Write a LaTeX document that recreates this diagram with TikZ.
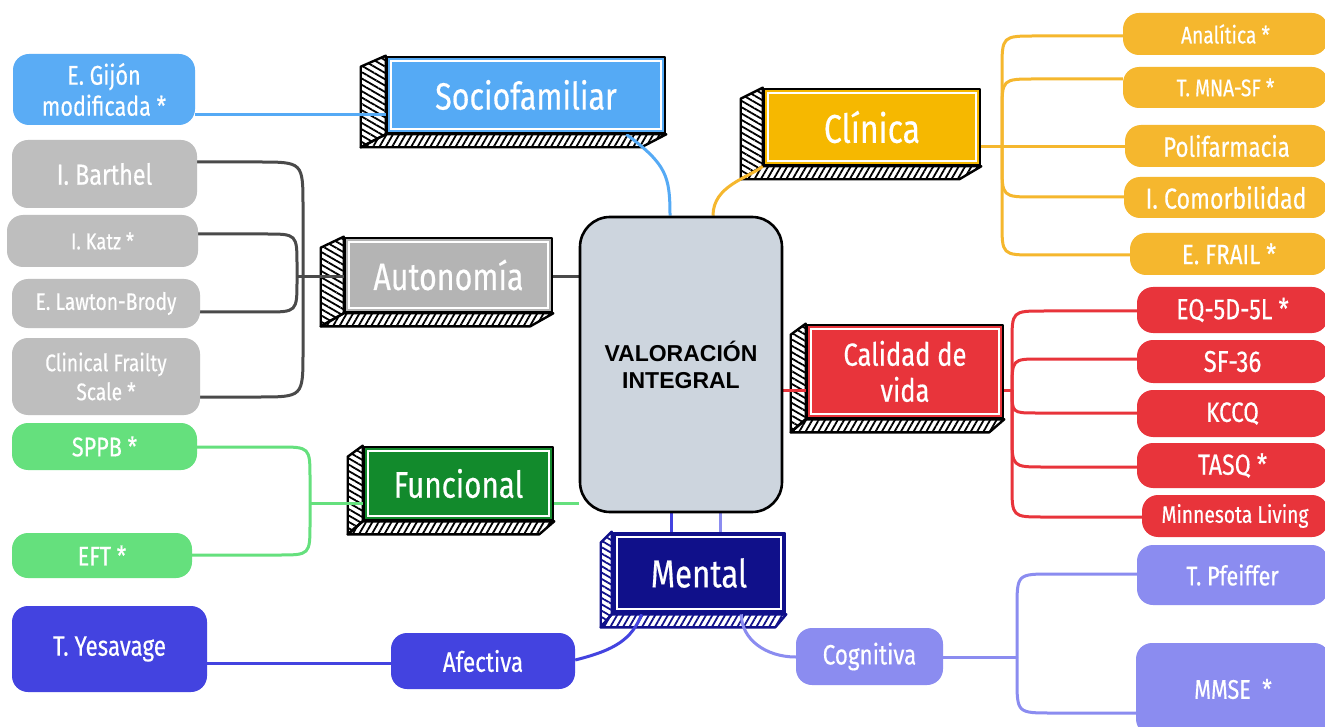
\documentclass[tikz,border=0pt]{standalone}
\usepackage{fontspec}
\setmainfont{Fira Sans}[FakeStretch=0.8,FakeBold=0.4]
\newfontfamily\arialf{Liberation Sans}
\usetikzlibrary{patterns.meta}
\pgfdeclarelayer{back}\pgfdeclarelayer{bg}\pgfdeclarelayer{mid}
\pgfsetlayers{back,bg,mid,main}
\definecolor{cblue}{HTML}{55AAF5}
\definecolor{lblue}{HTML}{5AACF5}
\definecolor{cyel}{HTML}{F6B800}
\definecolor{lyel}{HTML}{F5B72E}
\definecolor{cgray}{HTML}{B4B4B4}
\definecolor{lgray}{HTML}{BEBEBE}
\definecolor{dgray}{HTML}{4A4A4A}
\definecolor{cred}{HTML}{E8343B}
\definecolor{cgreen}{HTML}{128A2C}
\definecolor{lgreen}{HTML}{65E07D}
\definecolor{cnavy}{HTML}{10108A}
\definecolor{cpur}{HTML}{4343E0}
\definecolor{lpur}{HTML}{8B8CF0}
\definecolor{valfill}{HTML}{CDD5DE}
\newcommand\fs[2]{\fontsize{#1}{#2}\selectfont}
\tikzset{
  leaf/.style={rounded corners=16pt, text=white, inner sep=0pt, align=center},
  cat/.style={draw, line width=2.6pt, text=white, inner sep=0pt, align=center, line join=round},
  con/.style={line width=3pt},
  depthpanel/.style={line width=2.4pt, line join=round}
}
\newcommand\leaf[8]{\node[leaf, fill=#6, font=#7, minimum width={#4-#2}, minimum height={#5-#3}] (#1) at ({(#2+#4)/2},{(#3+#5)/2}) {#8};}
\newcommand\catbox[9]{%
  \node[cat, fill=#6, draw=#7, minimum width=#4pt, minimum height=#5pt] (#1) at (#2,#3) {#9};
  \draw[white, line width=2.4pt] ([shift={(5.5pt,-5.5pt)}]#1.north west) rectangle ([shift={(-5.5pt,5.5pt)}]#1.south east);
  \begin{pgfonlayer}{bg}
    \draw[depthpanel, draw=#7, pattern color=#7, pattern={Lines[angle=-30,distance=5.5pt,line width=1.8pt]}]
      (#1.north west) -- ++(-#8pt,-11pt) -- ([shift={(-#8pt,-13pt)}]#1.south west) -- (#1.south west) -- cycle;
    \draw[depthpanel, draw=#7, pattern color=#7, pattern={Lines[angle=60,distance=5.5pt,line width=1.8pt]}]
      (#1.south west) -- ([shift={(-#8pt,-13pt)}]#1.south west) -- ([shift={(-#8pt,-13pt)}]#1.south east) -- (#1.south east) -- cycle;
  \end{pgfonlayer}}
\begin{document}
\begin{tikzpicture}[x=1pt,y=-1pt]
\useasboundingbox (0,0) rectangle (1325,727);
\begin{pgfonlayer}{back}
\fill[white] (0,0) rectangle (1325,727);
\end{pgfonlayer}

% central
\node[draw, line width=2.6pt, rounded corners=30pt, fill=valfill, minimum width=202pt, minimum height=295pt, align=center, font=\arialf\bfseries\fs{23}{27}] (val) at (681,364.5) {VALORACIÓN\\INTEGRAL};

% categories
\catbox{soc}{526}{95}{278}{76}{cblue}{black}{25}{\fs{38}{44}Sociofamiliar}
\catbox{cli}{872}{127}{216}{76}{cyel}{black}{22}{\fs{40}{44}Clínica}
\catbox{aut}{448.5}{275}{207}{74}{cgray}{black}{23}{\fs{38}{44}Autonomía}
\catbox{cal}{905}{371.5}{196}{93}{cred}{black}{15}{\fs{32}{36}\raisebox{-5pt}[\height][\depth]{\begin{tabular}{@{}c@{}}Calidad de\\vida\end{tabular}}}
\catbox{fun}{458.5}{483.5}{189}{73}{cgreen}{black}{15}{\fs{37}{44}Funcional}
\catbox{men}{699}{573}{172}{80}{cnavy}{cnavy}{11}{\fs{39}{44}Mental}

% leaves
\leaf{gij}{13}{54}{195}{125}{lblue}{\fs{27}{31}}{E. Gijón\\modificada *}
\leaf{bar}{12}{140}{197}{208}{lgray}{\fs{29}{33}}{I. Barthel}
\leaf{katz}{7}{215}{198}{267}{lgray}{\fs{23}{26}}{I. Katz *}
\leaf{law}{12}{279}{200}{328}{lgray}{\fs{24}{28}}{E. Lawton-Brody}
\leaf{cfs}{12}{338}{200}{415}{lgray}{\fs{24}{29}}{Clinical Frailty\\Scale *}
\leaf{sppb}{12}{423}{197}{470}{lgreen}{\fs{27}{30}}{SPPB *}
\leaf{eft}{12}{533}{192}{578}{lgreen}{\fs{27}{30}}{EFT *}
\leaf{yes}{12}{606}{207}{692}{cpur}{\fs{28}{30}}{T. Yesavage}
\leaf{afe}{391}{633}{575}{689}{cpur}{\fs{28}{30}}{Afectiva}
\leaf{cog}{796}{628}{943}{685}{lpur}{\fs{28}{30}}{Cognitiva}
\leaf{pfe}{1137}{545}{1328}{605}{lpur}{\fs{27}{30}}{T. Pfeiffer}
\leaf{mmse}{1136}{643}{1330}{735}{lpur}{\fs{27}{30}}{MMSE\ \ *}
\leaf{an}{1123}{13}{1328}{55}{lyel}{\fs{24}{28}}{Analítica *}
\leaf{mna}{1123}{67}{1328}{108}{lyel}{\fs{24}{28}}{T. MNA-SF *}
\leaf{pol}{1125}{125}{1328}{167}{lyel}{\fs{28}{30}}{Polifarmacia}
\leaf{com}{1124}{177}{1328}{218}{lyel}{\fs{29}{30}}{I. Comorbilidad}
\leaf{fra}{1130}{233}{1328}{275}{lyel}{\fs{28}{30}}{E. FRAIL *}
\leaf{eq}{1137}{287}{1328}{333}{cred}{\fs{29}{30}}{EQ-5D-5L *}
\leaf{sf}{1137}{340}{1328}{383}{cred}{\fs{30}{30}}{SF-36}
\leaf{kccq}{1137}{390}{1328}{437}{cred}{\fs{28}{30}}{KCCQ}
\leaf{tasq}{1137}{443}{1328}{488}{cred}{\fs{29}{30}}{TASQ *}
\leaf{min}{1142}{495}{1328}{537}{cred}{\fs{24}{28}}{Minnesota Living}

\begin{pgfonlayer}{mid}
% blue
\draw[con, cblue] (gij.east |- 0,115) -- (soc.west |- 0,115);
\draw[con, cblue] ([xshift=-40pt]soc.south east) .. controls +(40pt,-30pt) and +(0pt,40pt) .. ([xshift=-11pt]val.north);
% yellow
\draw[con, lyel] ([xshift=32pt]val.north) .. controls +(0pt,30pt) and +(-15pt,-12pt) .. (cli.south west);
\coordinate (jcl) at (1002,147);
\draw[con, lyel] (cli.east |- jcl) -- (jcl);
\draw[con, lyel] (jcl) -- (1002,70) .. controls (1002,36) .. (1036,36) -- (an.west |- 0,36);
\draw[con, lyel] (jcl) -- (1002,112) .. controls (1002,79) .. (1035,79) -- (mna.west |- 0,79);
\draw[con, lyel] (jcl) -- (pol.west |- jcl);
\draw[con, lyel] (jcl) -- (1002,164) .. controls (1002,197) .. (1035,197) -- (com.west |- 0,197);
\draw[con, lyel] (jcl) -- (1002,222) .. controls (1002,255) .. (1035,255) -- (fra.west |- 0,255);
% gray
\coordinate (jau) at (298,277);
\draw[con, dgray] (aut.east |- jau) -- (val.west |- jau);
\draw[con, dgray] (jau) -- (aut.west |- jau);
\draw[con, dgray] (bar.east |- 0,162) -- (258,162) .. controls (303,162) .. (303,207) -- (303,352) .. controls (303,397) .. (258,397) -- (cfs.east |- 0,397);
\draw[con, dgray] (katz.east |- 0,234) -- (265,234) .. controls (297,234) .. (297,266) -- (297,280) .. controls (297,312) .. (265,312) -- (law.east |- 0,312);
% green
\coordinate (jfu) at (310,503);
\draw[con, lgreen] (sppb.east |- 0,447) -- (278,447) .. controls (310,447) .. (310,479) -- (310,523) .. controls (310,555) .. (278,555) -- (eft.east |- 0,555);
\draw[con, lgreen] (jfu) -- (fun.west |- jfu);
\draw[con, lgreen] (fun.east |- jfu) -- (val.west |- jfu);
% red
\coordinate (jca) at (1012,390);
\draw[con, cred] (val.east |- jca) -- (cal.west |- jca);
\draw[con, cred] (cal.east |- jca) -- (jca);
\draw[con, cred] (jca) -- (1012,343) .. controls (1012,311) .. (1044,311) -- (eq.west |- 0,311);
\draw[con, cred] (jca) .. controls (1012,359) .. (1040,359) -- (sf.west |- 0,359);
\draw[con, cred] (jca) .. controls (1012,413) .. (1036,413) -- (kccq.west |- 0,413);
\draw[con, cred] (jca) -- (1012,435) .. controls (1012,467) .. (1044,467) -- (tasq.west |- 0,467);
\draw[con, cred] (jca) -- (1012,485) .. controls (1012,517) .. (1044,517) -- (min.west |- 0,517);
% mental
\draw[con, cpur] ([xshift=-10pt]val.south) -- ([xshift=-10pt]val.south |- men.north);
\draw[con, lpur] ([xshift=39pt]val.south) -- ([xshift=39pt]val.south |- men.north);
\draw[con, cpur] (afe.east |- 0,660) .. controls +(40pt,10pt) and +(-10pt,-25pt) .. ([xshift=30pt]men.south west);
\draw[con, lpur] ([xshift=-45pt]men.south east) .. controls +(0pt,-25pt) and +(-30pt,0pt) .. (cog.west |- 0,657);
\draw[con, cpur] (yes.east |- 0,663) -- (afe.west |- 0,663);
\coordinate (jco) at (1017,657);
\draw[con, lpur] (cog.east |- jco) -- (jco);
\draw[con, lpur] (jco) -- (1017,609) .. controls (1017,574) .. (1052,574) -- (pfe.west |- 0,574);
\draw[con, lpur] (jco) -- (1017,678) .. controls (1017,713) .. (1052,713) -- (mmse.west |- 0,713);
\end{pgfonlayer}
\end{tikzpicture}
\end{document}
